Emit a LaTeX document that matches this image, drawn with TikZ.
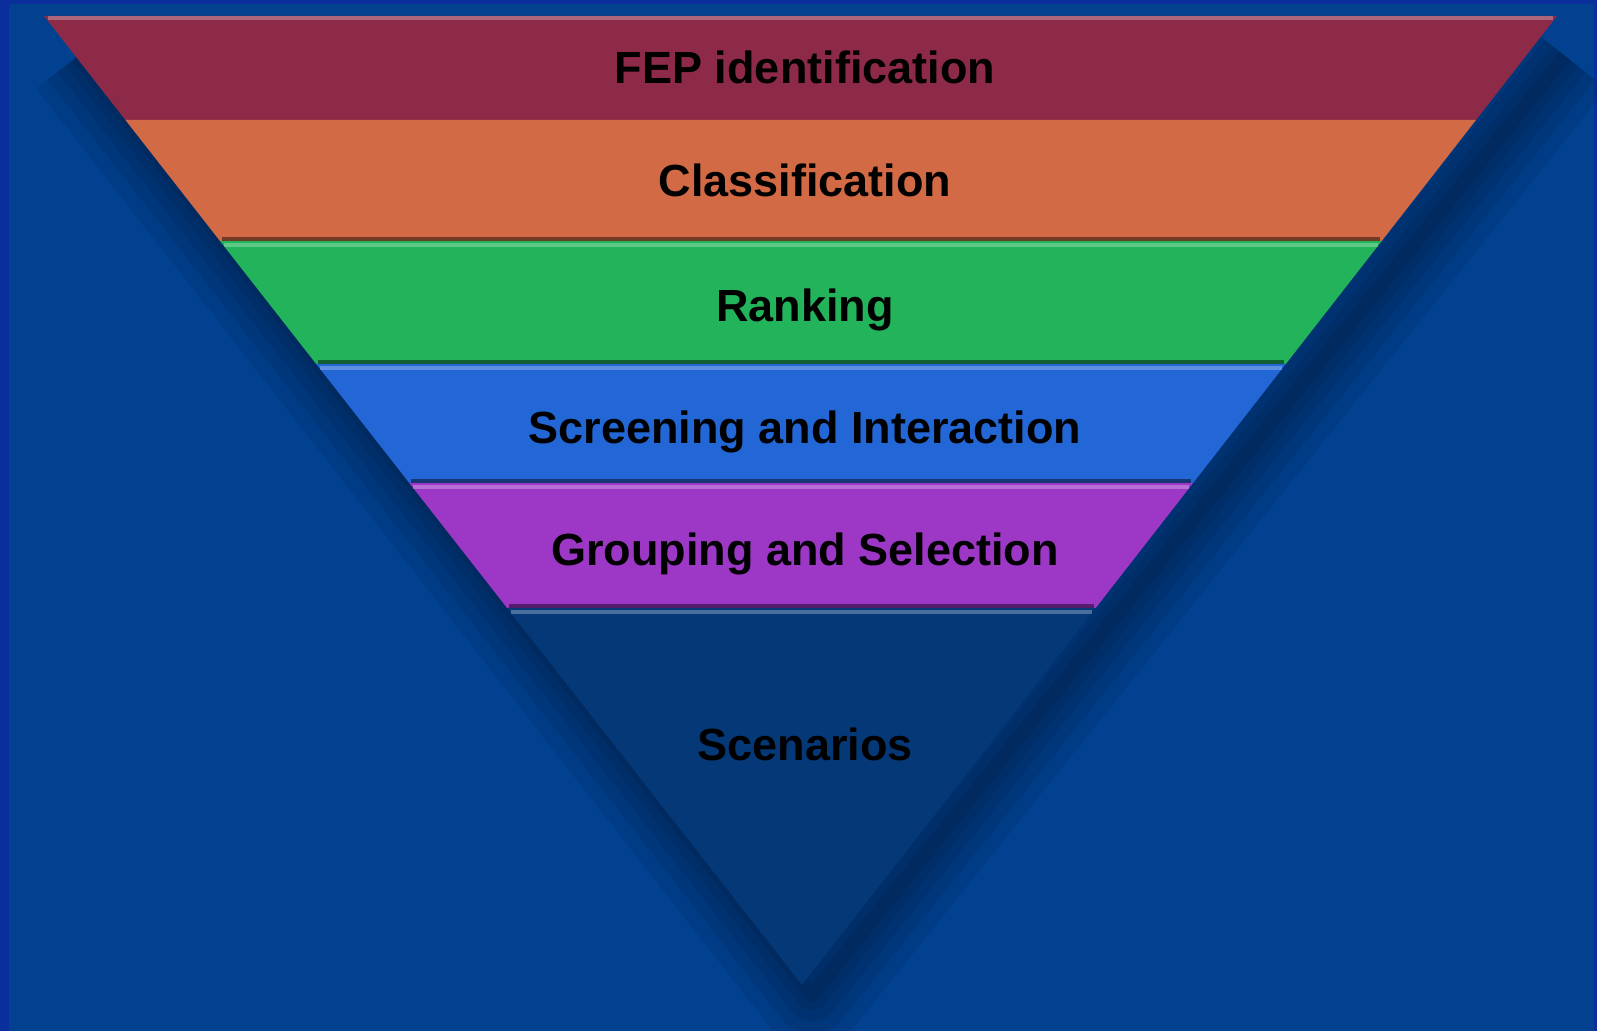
\documentclass[tikz,border=0pt]{standalone}
\usepackage{fontspec}
\setmainfont{Liberation Sans}
\usetikzlibrary{calc}

\definecolor{framebl}{HTML}{0A2F9C}
\definecolor{bgblue}{HTML}{014190}
\definecolor{fepred}{HTML}{8C2A48}
\definecolor{classorange}{HTML}{D26B45}
\definecolor{rankgreen}{HTML}{22B35B}
\definecolor{screenblue}{HTML}{2366D6}
\definecolor{grouppurple}{HTML}{9C37C6}
\definecolor{scenblue}{HTML}{053877}

\tikzset{
	lbl/.style={font=\fontsize{12.8}{15}\selectfont\bfseries, anchor=base, text=black, inner sep=0pt},
	glint/.style={white, opacity=.28, line width=1.3pt},
	rim/.style={black, opacity=.45, line width=1.1pt},
	blur/.style={black, opacity=.075, line join=round, line cap=butt}
}

\begin{document}
\begin{tikzpicture}[x=0.01cm, y=-0.01cm]
	\useasboundingbox (0,0) rectangle (1597,1031);
	\fill[framebl] (0,0) rectangle (1597,1031);
	\fill[bgblue] (9,4) rectangle (1594,1031);

	% corner points of the funnel
	\coordinate (t0l) at (44,16);
	\coordinate (t0r) at (1557,16);
	\coordinate (t1l) at (125.4,120);
	\coordinate (t1r) at (1476,120);
	\coordinate (t2l) at (220,241);
	\coordinate (t2r) at (1381.7,241);
	\coordinate (t3l) at (316.2,364);
	\coordinate (t3r) at (1285.8,364);
	\coordinate (t4l) at (409.3,483);
	\coordinate (t4r) at (1193.1,483);
	\coordinate (t5l) at (507.1,608);
	\coordinate (t5r) at (1095.7,608);
	\coordinate (apex) at (802,985);

	% soft shadow
	\foreach \w in {30,22,15,9,4}
		\draw[blur] [line width=\w pt] ([shift={(34,40)}]t0l) -- ([shift={(10,10)}]apex) -- ([shift={(8,40)}]t0r);

	% bands
	\fill[fepred] (t0l) -- (t0r) -- (t1r) -- (t1l) -- cycle;
	\fill[classorange] (t1l) -- (t1r) -- (t2r) -- (t2l) -- cycle;
	\fill[rankgreen] (t2l) -- (t2r) -- (t3r) -- (t3l) -- cycle;
	\fill[screenblue] (t3l) -- (t3r) -- (t4r) -- (t4l) -- cycle;
	\fill[grouppurple] (t4l) -- (t4r) -- (t5r) -- (t5l) -- cycle;
	\fill[scenblue] (t5l) -- (t5r) -- (apex) -- cycle;

	% bevel lines
	\draw[glint] ($(t0l)+(4,2)$) -- ($(t0r)+(-4,2)$);
	\draw[glint] ($(t2l)+(4,4)$) -- ($(t2r)+(-4,4)$);
	\draw[glint] ($(t3l)+(4,4)$) -- ($(t3r)+(-4,4)$);
	\draw[glint] ($(t4l)+(4,4)$) -- ($(t4r)+(-4,4)$);
	\draw[glint] ($(t5l)+(4,4)$) -- ($(t5r)+(-4,4)$);
	\draw[rim] ($(t2l)+(2,-2)$) -- ($(t2r)+(-2,-2)$);
	\draw[rim] ($(t3l)+(2,-2)$) -- ($(t3r)+(-2,-2)$);
	\draw[rim] ($(t4l)+(2,-2)$) -- ($(t4r)+(-2,-2)$);
	\draw[rim] ($(t5l)+(2,-2)$) -- ($(t5r)+(-2,-2)$);

	% labels
	\node[lbl] (fep)    at (805,84)  {FEP identification};
	\node[lbl] (class)  at (805,197) {Classification};
	\node[lbl] (rank)   at (805,322) {Ranking};
	\node[lbl] (screen) at (805,444) {Screening and Interaction};
	\node[lbl] (group)  at (805,566) {Grouping and Selection};
	\node[lbl] (scen)   at (805,761) {Scenarios};
\end{tikzpicture}
\end{document}
